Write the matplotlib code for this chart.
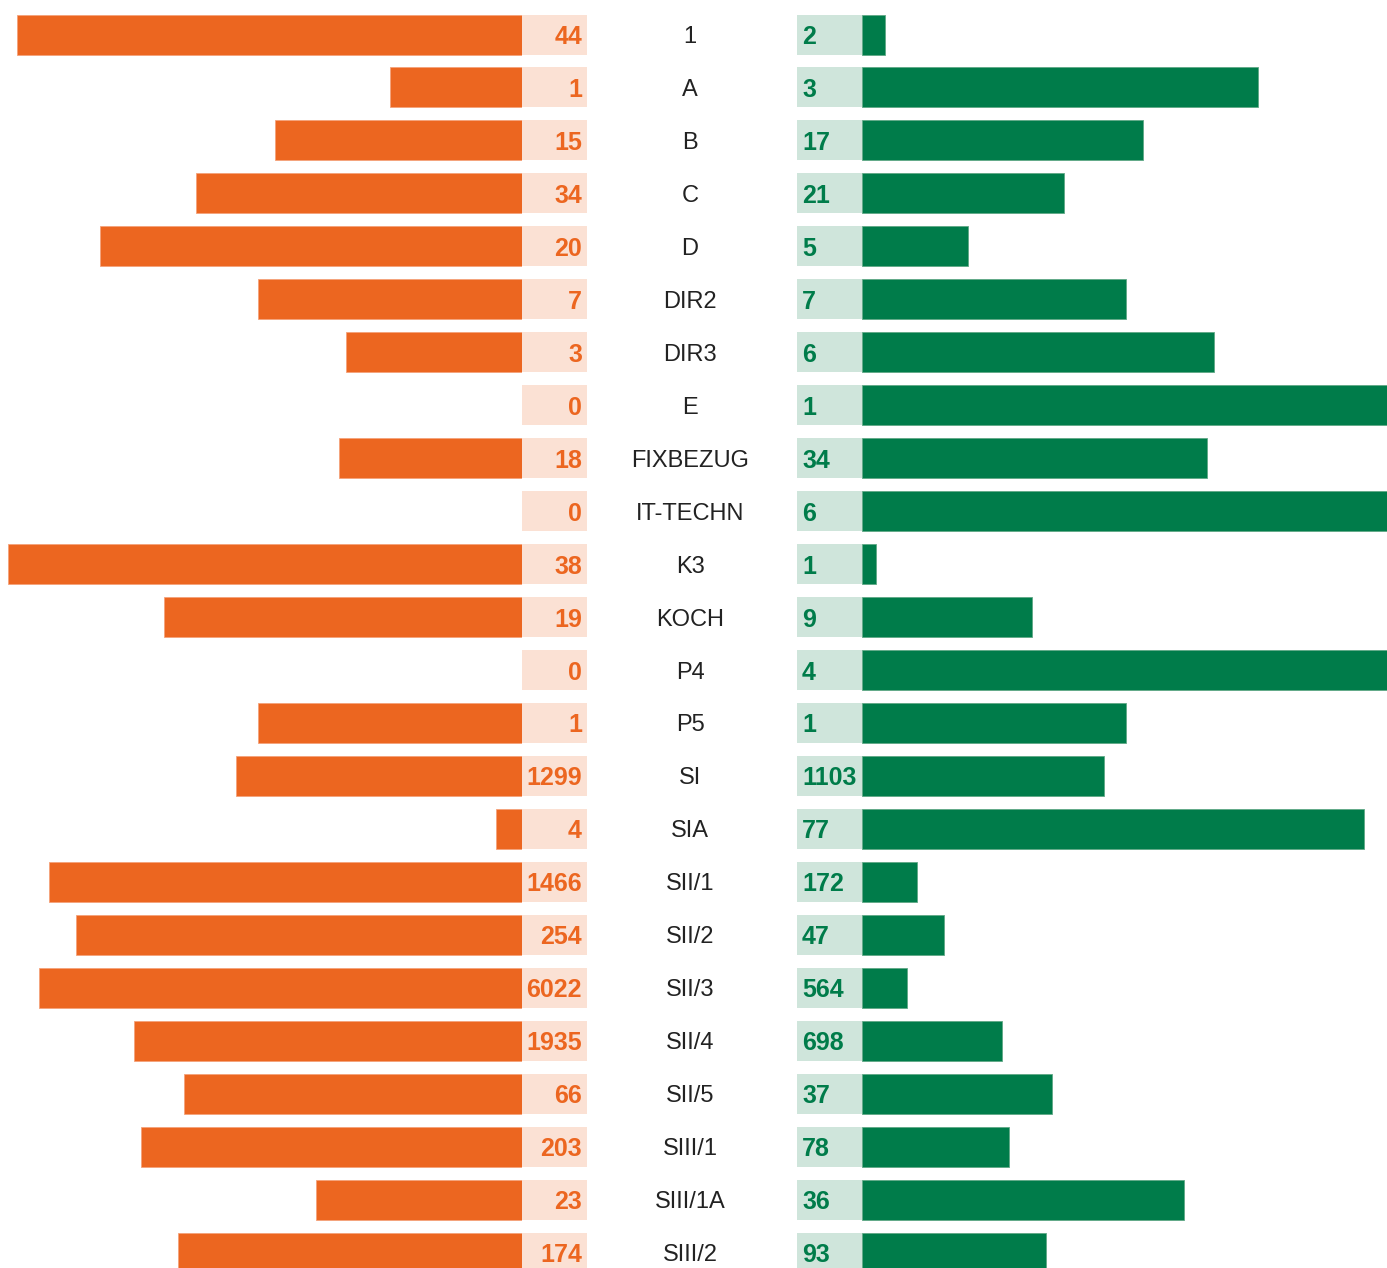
import matplotlib
matplotlib.use("Agg")
import matplotlib.pyplot as plt
import numpy as np

categories = ["1", "A", "B", "C", "D", "DIR2", "DIR3", "E", "FIXBEZUG", "IT-TECHN",
              "K3", "KOCH", "P4", "P5", "SI", "SIA", "SII/1", "SII/2", "SII/3",
              "SII/4", "SII/5", "SIII/1", "SIII/1A", "SIII/2"]
left_counts = [44, 1, 15, 34, 20, 7, 3, 0, 18, 0, 38, 19, 0, 1, 1299, 4, 1466, 254,
               6022, 1935, 66, 203, 23, 174]
right_counts = [2, 3, 17, 21, 5, 7, 6, 1, 34, 6, 1, 9, 4, 1, 1103, 77, 172, 47, 564,
                698, 37, 78, 36, 93]

ORANGE = "#EC6620"
PEACH = "#FBE1D4"
GREEN = "#007C4A"
LIGHTGREEN = "#CFE5DB"

plt.rcParams["font.family"] = ["Liberation Sans", "DejaVu Sans"]

W, H = 1387, 1268
fig = plt.figure(figsize=(W / 100, H / 100), dpi=100)

left = np.array(left_counts, dtype=float)
right = np.array(right_counts, dtype=float)
tot = left + right
lpct = np.where(tot > 0, left / tot * 100, 0)
rpct = np.where(tot > 0, right / tot * 100, 0)

n = len(categories)
y = np.arange(n)
row_px = 52.96
top_px = 34.5
ylim = (n - 1 + (H - (top_px + (n - 1) * row_px)) / row_px, -top_px / row_px)
bar_h = 40 / row_px

scale_px = 528
axL = fig.add_axes([(522 - scale_px) / W, 0, scale_px / W, 1])
axR = fig.add_axes([862 / W, 0, scale_px / W, 1])
axM = fig.add_axes([522 / W, 0, 340 / W, 1])

axL.barh(y, lpct, height=bar_h, color=ORANGE, edgecolor="#F4A27A", linewidth=0.6)
axL.set_xlim(100, 0)
axR.barh(y, rpct, height=bar_h, color=GREEN, edgecolor="#5FA886", linewidth=0.6)
axR.set_xlim(0, 100)

axM.set_xlim(522, 862)
axM.barh(y, 65, left=522, height=bar_h, color=PEACH)
axM.barh(y, 65, left=797, height=bar_h, color=LIGHTGREEN)
for i in range(n):
    axM.text(582, y[i], f"{left_counts[i]}", ha="right", va="center_baseline",
             fontsize=18, fontweight="bold", color=ORANGE)
    axM.text(690, y[i], categories[i], ha="center", va="center_baseline",
             fontsize=17, color="#222222")
    axM.text(802, y[i], f"{right_counts[i]}", ha="left", va="center_baseline",
             fontsize=18, fontweight="bold", color=GREEN)

for ax in (axL, axR, axM):
    ax.set_ylim(*ylim)
    ax.axis("off")
    ax.patch.set_alpha(0)

fig.savefig("out.png", dpi=100)
